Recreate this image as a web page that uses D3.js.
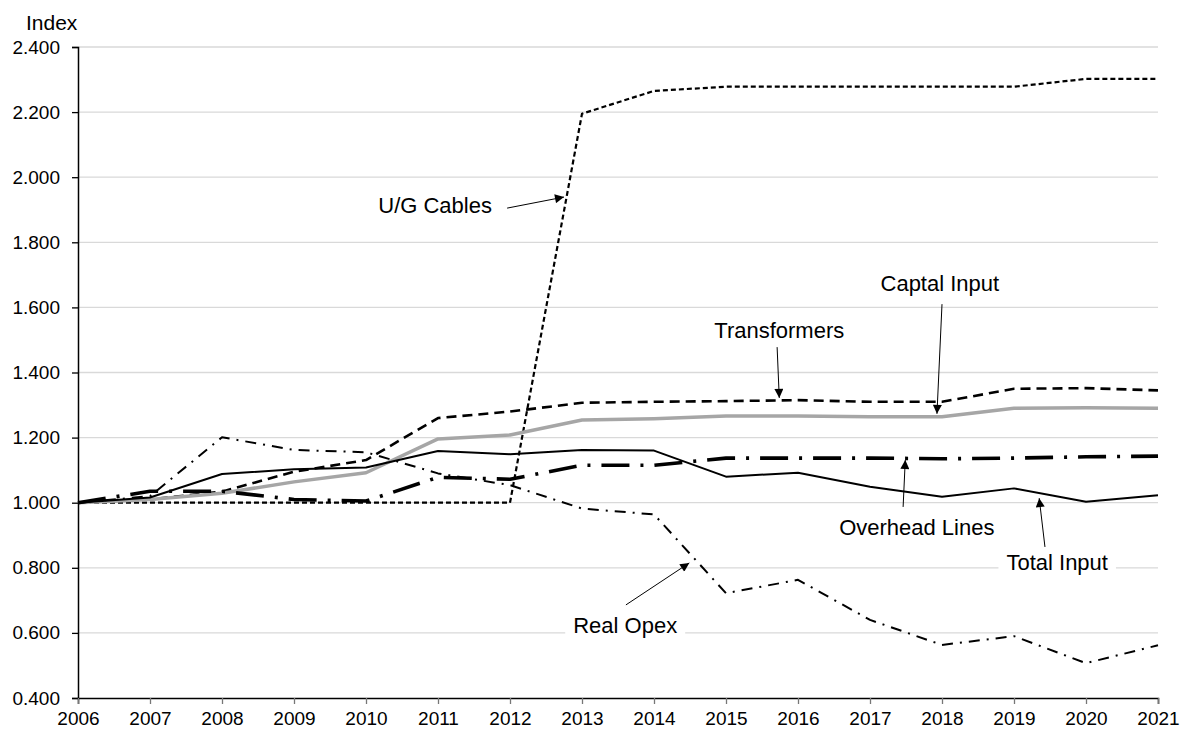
<!DOCTYPE html>
<html>
<head>
<meta charset="utf-8">
<script src="https://cdn.jsdelivr.net/npm/d3@7"></script>
<style>
  body { margin: 0; background: #fff; }
  svg { display: block; font-family: "Liberation Sans", Arial, sans-serif; }
</style>
</head>
<body>
<div class="chart"></div>
<script>
// data
const years = d3.range(2006, 2022);
const ugCables     = [1.000, 1.000, 1.000, 1.000, 1.000, 1.000, 1.000, 2.195, 2.265, 2.278, 2.278, 2.278, 2.278, 2.278, 2.302, 2.302];
const transformers = [1.000, 1.010, 1.034, 1.095, 1.131, 1.260, 1.280, 1.307, 1.310, 1.312, 1.315, 1.310, 1.310, 1.350, 1.352, 1.345];
const capitalInput = [1.000, 1.010, 1.029, 1.064, 1.092, 1.196, 1.208, 1.254, 1.258, 1.266, 1.266, 1.264, 1.264, 1.290, 1.292, 1.290];
const totalInput   = [1.000, 1.016, 1.088, 1.103, 1.108, 1.159, 1.149, 1.162, 1.160, 1.080, 1.092, 1.049, 1.018, 1.044, 1.003, 1.023];
const overheadLines= [1.000, 1.035, 1.035, 1.010, 1.005, 1.078, 1.072, 1.115, 1.115, 1.137, 1.137, 1.137, 1.135, 1.137, 1.141, 1.143];
const realOpex     = [1.000, 1.020, 1.201, 1.162, 1.155, 1.090, 1.054, 0.982, 0.964, 0.722, 0.763, 0.640, 0.563, 0.590, 0.507, 0.562];
const yTicks = [0.4, 0.6, 0.8, 1.0, 1.2, 1.4, 1.6, 1.8, 2.0, 2.2, 2.4];

// annotation labels: text position and arrow (from -> to), in data units
const labelNames = ["U/G Cables", "Transformers", "Captal Input", "Overhead Lines", "Total Input", "Real Opex"];
const labelAt    = [[2010.96, 1.89], [2015.74, 1.506], [2017.97, 1.65], [2017.65, 0.90], [2019.6, 0.793], [2013.6, 0.60]];
const arrowFrom  = [[2011.96, 1.905], [2015.71, 1.478], [2018.0, 1.61], [2017.46, 0.987], [2019.43, 0.864], [2013.61, 0.686]];
const arrowTo    = [[2012.75, 1.939], [2015.74, 1.322], [2017.93, 1.273], [2017.49, 1.131], [2019.35, 1.014], [2014.49, 0.815]];

//constants
const width = 1185;
const height = 731;
const margin = {top: 47, right: 27, bottom: 33, left: 78};

const svg = d3.select(".chart")
    .append("svg")
    .attr("width", width)
    .attr("height", height);

const x = d3.scaleLinear()
    .domain([2006, 2021])
    .range([margin.left, width - margin.right]);

const y = d3.scaleLinear()
    .domain([0.4, 2.4])
    .range([height - margin.bottom, margin.top]);

// gridlines
svg.append("g")
    .selectAll("line")
    .data(yTicks.slice(1))
    .enter()
    .append("line")
    .attr("x1", x(2006))
    .attr("x2", x(2021))
    .attr("y1", d => y(d))
    .attr("y2", d => y(d))
    .attr("stroke", "#d9d9d9")
    .attr("stroke-width", 1.3);

// white boxes behind the labels so gridlines break under them
const labelGroup = svg.append("g");
const bgGroup = svg.insert("g", () => labelGroup.node());

// series
const series = [
  {name: "U/G Cables", values: ugCables, color: "#000", w: 2.2, dash: "5,3"},
  {name: "Transformers", values: transformers, color: "#000", w: 2.6, dash: "10,6"},
  {name: "Captal Input", values: capitalInput, color: "#a6a6a6", w: 3.5, dash: null},
  {name: "Total Input", values: totalInput, color: "#000", w: 2, dash: null},
  {name: "Overhead Lines", values: overheadLines, color: "#000", w: 3.6, dash: "28,11,3,11"},
  {name: "Real Opex", values: realOpex, color: "#000", w: 2, dash: "11,7,2,7"}
];

const line = d3.line()
    .x((d, i) => x(years[i]))
    .y(d => y(d));

svg.append("g")
    .selectAll("path")
    .data(series)
    .enter()
    .append("path")
    .attr("d", d => line(d.values))
    .attr("fill", "none")
    .attr("stroke", d => d.color)
    .attr("stroke-width", d => d.w)
    .attr("stroke-dasharray", d => d.dash)
    .attr("stroke-linejoin", "round");

// axes
const yAxis = svg.append("g")
    .attr("transform", `translate(${margin.left},0)`)
    .call(d3.axisLeft(y).tickValues(yTicks).tickFormat(d3.format(".3f")).tickSize(6).tickPadding(12));
yAxis.select(".domain").attr("stroke", "#000").attr("stroke-width", 1.5);
yAxis.selectAll(".tick line").attr("stroke", "#000").attr("stroke-width", 1.3);
yAxis.selectAll("text").style("font-size", "19px").attr("fill", "#000");

const xAxis = svg.append("g")
    .attr("transform", `translate(0,${height - margin.bottom})`)
    .call(d3.axisBottom(x).tickValues(years).tickFormat(d3.format("d")).tickSize(6).tickPadding(8));
xAxis.select(".domain").attr("stroke", "#000").attr("stroke-width", 1.5);
xAxis.selectAll(".tick line").attr("stroke", "#777").attr("stroke-width", 1.3);
xAxis.selectAll("text").style("font-size", "19px").attr("fill", "#000");

svg.append("text")
    .attr("x", 26)
    .attr("y", 30)
    .style("font-size", "21px")
    .text("Index");

// arrowhead
svg.append("defs")
    .append("marker")
    .attr("id", "arrow")
    .attr("viewBox", "0 0 10 10")
    .attr("refX", 10)
    .attr("refY", 5)
    .attr("markerUnits", "userSpaceOnUse")
    .attr("markerWidth", 11)
    .attr("markerHeight", 9)
    .attr("orient", "auto")
    .append("path")
    .attr("d", "M0,0L10,5L0,10Z")
    .attr("fill", "#000");

svg.append("g")
    .selectAll("line")
    .data(labelNames)
    .enter()
    .append("line")
    .attr("x1", (d, i) => x(arrowFrom[i][0]))
    .attr("y1", (d, i) => y(arrowFrom[i][1]))
    .attr("x2", (d, i) => x(arrowTo[i][0]))
    .attr("y2", (d, i) => y(arrowTo[i][1]))
    .attr("stroke", "#000")
    .attr("stroke-width", 1)
    .attr("marker-end", "url(#arrow)");

const labels = labelGroup.selectAll("text")
    .data(labelNames)
    .enter()
    .append("text")
    .attr("x", (d, i) => x(labelAt[i][0]))
    .attr("y", (d, i) => y(labelAt[i][1]))
    .attr("text-anchor", "middle")
    .style("font-size", "22px")
    .text(d => d);

labels.each(function() {
  const b = this.getBBox();
  bgGroup.append("rect")
      .attr("x", b.x - 8)
      .attr("y", b.y)
      .attr("width", b.width + 16)
      .attr("height", b.height)
      .attr("fill", "#fff");
});
</script>
</body>
</html>
